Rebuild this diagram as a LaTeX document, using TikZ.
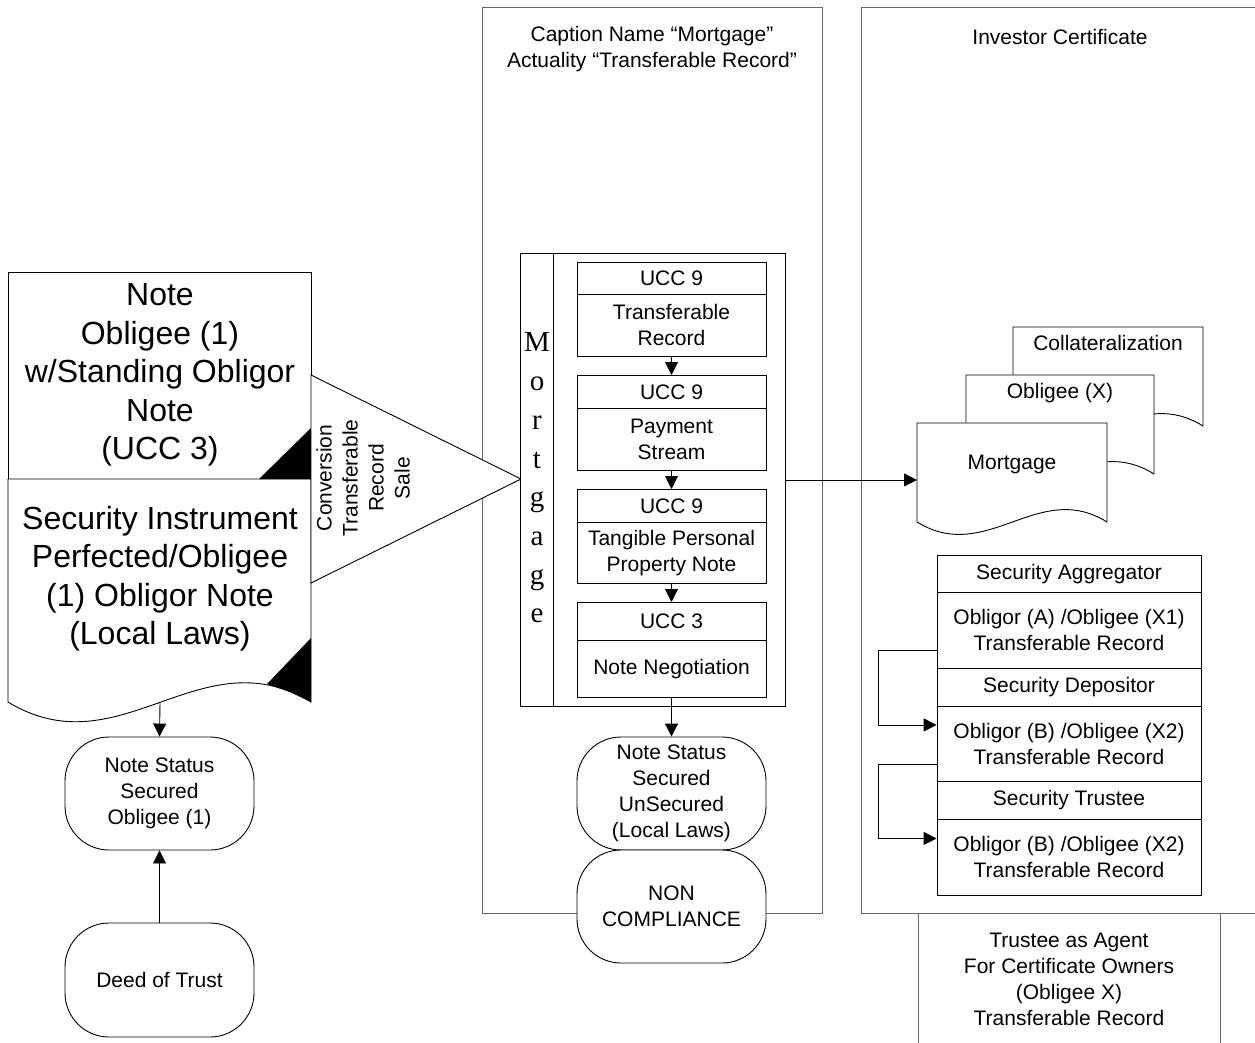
\documentclass[tikz,border=0pt]{standalone}
\usepackage{fontspec}
\setmainfont{Liberation Sans}
\newfontfamily\mserif{Liberation Serif}
\usetikzlibrary{arrows.meta,calc}
\begin{document}
\begin{tikzpicture}[x=1pt,y=-1pt,
  lw/.style={line width=0.9pt},
  col/.style={draw=black!60, line width=0.9pt, inner sep=0pt, anchor=north west},
  txt/.style={inner sep=0pt, align=center, font=\fontsize{21}{26}\selectfont},
  bigtxt/.style={inner sep=0pt, align=center, font=\fontsize{32}{38.5}\selectfont},
  cell/.style={draw, line width=0.9pt, fill=white, inner sep=0pt, align=center, anchor=north, font=\fontsize{21}{26}\selectfont},
  stad/.style={draw, line width=0.9pt, fill=white, rounded corners=44pt, inner sep=0pt, align=center, minimum width=189pt, minimum height=113pt, font=\fontsize{21}{26}\selectfont},
  arr/.style={line width=0.9pt, -{Triangle[length=13pt,width=13pt]}},
  blk/.style={fill=black}
]
\useasboundingbox (0,0) rectangle (1255,1042);
\clip (0,0) rectangle (1255,1042);

% columns
\node[col, minimum width=340pt, minimum height=906pt] (midcol) at (482,7) {};
\node[txt] (cap) at (652,49.5) {Caption Name “Mortgage”\\Actuality “Transferable Record”};
\node[col, minimum width=420pt, minimum height=906pt] (rcol) at (861,7) {};
\node[txt] (inv) at (1060,37) {Investor Certificate};
\node[cell, draw=black!60, minimum width=302pt, minimum height=131pt] (trustee) at (1069,913)
  {Trustee as Agent\\For Certificate Owners\\(Obligee X)\\Transferable Record};

% left document
\draw[lw, fill=white] (8,272) rectangle (311,479);
\draw[lw, fill=white] (8,479) -- (311,479) -- (311,702) .. controls (200,635) and (120,770) .. (8,702) -- cycle;
\fill[blk] (311,428) -- (311,479) -- (259,479) -- cycle;
\fill[blk] (311,638) -- (311,702) -- (290,692) -- (267,684) -- cycle;
\node[bigtxt] (notetxt) at (160,375) {Note\\Obligee (1)\\w/Standing Obligor\\Note\\(UCC 3)};
\node[bigtxt] (sectxt) at (160,578.5) {Security Instrument\\Perfected/Obligee\\(1) Obligor Note\\(Local Laws)};
\coordinate (wave) at (160,703);

% conversion triangle
\draw[lw, fill=white] (311,375) -- (521,479) -- (311,583) -- cycle;
\node[txt, rotate=90] (conv) at (363,478) {Conversion\\Transferable\\Record\\Sale};

% mortgage box
\node[draw, lw, fill=white, minimum width=265pt, minimum height=453pt, anchor=north west, inner sep=0pt] (mbox) at (520,253) {};
\draw[lw] ([xshift=33pt]mbox.north west) -- ([xshift=33pt]mbox.south west);
\node[inner sep=0pt, align=center, font=\mserif\fontsize{29}{38.7}\selectfont] (mvert) at (537,478) {M\\o\\r\\t\\g\\a\\g\\e};

\node[cell, minimum width=189pt, minimum height=32pt] (u1h) at (671.5,262) {UCC 9};
\node[cell, minimum width=189pt, minimum height=62pt] (u1b) at (671.5,294) {Transferable\\Record};
\node[cell, minimum width=189pt, minimum height=33pt] (u2h) at (671.5,375) {UCC 9};
\node[cell, minimum width=189pt, minimum height=62pt] (u2b) at (671.5,408) {Payment\\Stream};
\node[cell, minimum width=189pt, minimum height=33pt] (u3h) at (671.5,489) {UCC 9};
\node[cell, minimum width=189pt, minimum height=61pt] (u3b) at (671.5,522) {Tangible Personal\\Property Note};
\node[cell, minimum width=189pt, minimum height=38pt] (u4h) at (671.5,602) {UCC 3};
\node[cell, minimum width=189pt, minimum height=57pt] (u4b) at (671.5,640) {Note Negotiation};
\draw[arr] (u1b.south) -- (u2h.north);
\draw[arr] (u2b.south) -- (u3h.north);
\draw[arr] (u3b.south) -- (u4h.north);

% middle bottom
\node[stad] (ns2) at (671.5,793.5) {Note Status\\Secured\\UnSecured\\(Local Laws)};
\node[stad] (nc) at (671.5,906.5) {NON\\COMPLIANCE};
\draw[arr] (u4b.south) -- (ns2.north);

% left bottom
\node[stad] (ns1) at (159.5,793.5) {Note Status\\Secured\\Obligee (1)};
\node[stad, minimum height=114pt] (deed) at (159.5,980) {Deed of Trust};
\draw[arr] (wave) -- (ns1.north);
\draw[arr] (deed.north) -- (ns1.south);

% right documents
\draw[lw, fill=white] (1013,327) -- (1203,327) -- (1203,426) .. controls (1134,383) and (1083,469) .. (1013,426) -- cycle;
\node[txt] (coll) at (1108,343) {Collateralization};
\draw[lw, fill=white] (966,375) -- (1154,375) -- (1154,474) .. controls (1085,431) and (1036,517) .. (966,474) -- cycle;
\node[txt] (oblx) at (1060,393) {Obligee (X)};
\node[inner sep=0pt, minimum width=190pt, minimum height=99pt, anchor=north west] (mdoc) at (917,423) {};
\draw[lw, fill=white] (917,423) -- (1107,423) -- (1107,522) .. controls (1038,479) and (987,565) .. (917,522) -- cycle;
\node[txt] (mort) at (1012,464) {Mortgage};
\draw[arr] (mbox.east) -- (mbox.east -| mdoc.west);

% security stack
\node[cell, minimum width=264pt, minimum height=37pt] (sa) at (1069,555) {Security Aggregator};
\node[cell, minimum width=264pt, minimum height=76pt] (sab) at (1069,592) {Obligor (A) /Obligee (X1)\\Transferable Record};
\node[cell, minimum width=264pt, minimum height=38pt] (sd) at (1069,668) {Security Depositor};
\node[cell, minimum width=264pt, minimum height=75pt] (sdb) at (1069,706) {Obligor (B) /Obligee (X2)\\Transferable Record};
\node[cell, minimum width=264pt, minimum height=38pt] (st) at (1069,781) {Security Trustee};
\node[cell, minimum width=264pt, minimum height=76pt] (stb) at (1069,819) {Obligor (B) /Obligee (X2)\\Transferable Record};
\draw[arr] ([yshift=-20pt]sab.west) -- ++(-58,0) |- ([yshift=19pt]sdb.west);
\draw[arr] ([yshift=-20pt]sdb.west) -- ++(-58,0) |- ([yshift=19pt]stb.west);
\end{tikzpicture}
\end{document}
